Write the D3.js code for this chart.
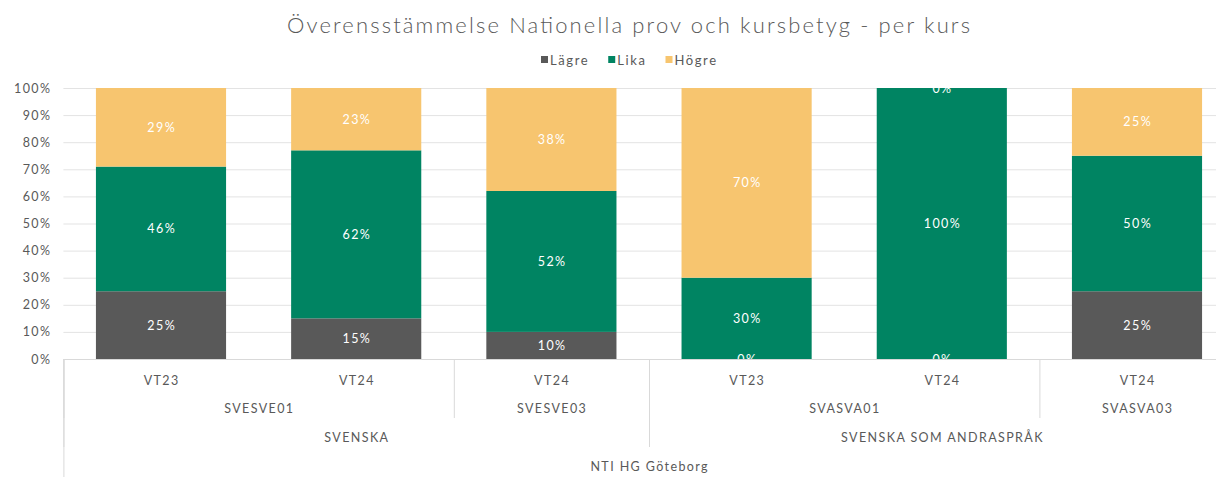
<!DOCTYPE html>
<html><head><meta charset="utf-8">
<script src="https://cdn.jsdelivr.net/npm/d3@7"></script>
<style>body{margin:0;background:#fff}svg{display:block}</style>
</head><body>
<svg id="c" width="1216" height="477"></svg>
<script>
const periods = ["VT23","VT24","VT24","VT23","VT24","VT24"];
const courses = ["SVESVE01","SVESVE01","SVESVE03","SVASVA01","SVASVA01","SVASVA03"];
const subjects = ["SVENSKA","SVENSKA","SVENSKA","SVENSKA SOM ANDRASPRÅK","SVENSKA SOM ANDRASPRÅK","SVENSKA SOM ANDRASPRÅK"];
const schools = ["NTI HG Göteborg","NTI HG Göteborg","NTI HG Göteborg","NTI HG Göteborg","NTI HG Göteborg","NTI HG Göteborg"];
const seriesNames = ["Lägre","Lika","Högre"];
const lagre = [25,15,10,0,0,25];
const lika = [46,62,52,30,100,50];
const hogre = [29,23,38,70,0,25];
const yTicks = [0,10,20,30,40,50,60,70,80,90,100];
const colors = ["#595959","#008462","#F7C56F"];

(function(){
const svg = d3.select("#c");
const font = "Lato, 'Open Sans', sans-serif";
const textCol = "#595959";
const LS = "1.4px", FS = 12.5;
const W = 1216, H = 477;
const pLeft = 63.4, pRight = 1234.6, pTop = 88, pBottom = 359;
const idx = d3.range(periods.length);
const x = d3.scaleBand().domain(idx).range([pLeft,pRight]).paddingInner(1/3).paddingOuter(1/6);
const y = d3.scaleLinear().domain([0,100]).range([pBottom, pTop]);

svg.append("text").attr("x",628.5).attr("y",33).attr("text-anchor","middle")
  .attr("font-family",font).attr("font-size",22).attr("fill",textCol).attr("font-weight",300)
  .attr("textLength",683).attr("lengthAdjust","spacing")
  .text("Överensstämmelse Nationella prov och kursbetyg - per kurs");

const leg = svg.append("g");
let lx = 541;
seriesNames.forEach((n,i)=>{
  const g = leg.append("g").attr("transform",`translate(${lx},60)`);
  g.append("rect").attr("x",0).attr("y",-4).attr("width",7).attr("height",7).attr("fill",colors[i]);
  const t = g.append("text").attr("x",9).attr("y",4.5).attr("font-family",font).attr("font-size",13)
    .attr("letter-spacing","1.6px").attr("fill",textCol).text(n);
  lx += 9 + t.node().getComputedTextLength() + 19;
});

const plot = svg.append("g");
plot.selectAll("line.grid").data(yTicks).enter().append("line")
  .attr("x1",pLeft).attr("x2",W).attr("y1",d=>y(d)+0.5).attr("y2",d=>y(d)+0.5)
  .attr("stroke","#e3e3e3").attr("stroke-width",1);

const yAxis = d3.axisLeft(y).tickValues(yTicks).tickFormat(d=>d+"%").tickSize(0).tickPadding(12);
const ya = svg.append("g").attr("transform",`translate(${pLeft},0)`).call(yAxis);
ya.select(".domain").remove();
ya.selectAll("text").attr("font-family",font).attr("font-size",FS).attr("letter-spacing",LS).attr("fill",textCol);

const rows = idx.map(i=>({i, "Lägre":lagre[i], "Lika":lika[i], "Högre":hogre[i]}));
const stack = d3.stack().keys(seriesNames)(rows);
stack.forEach((s,si)=>{
  plot.append("g").selectAll("rect").data(s).enter().append("rect")
    .attr("x",d=>x(d.data.i)).attr("width",x.bandwidth())
    .attr("y",d=>y(d[1])).attr("height",d=>y(d[0])-y(d[1]))
    .attr("fill",colors[si]);
});
stack.forEach((s,si)=>{
  plot.append("g").selectAll("text").data(s).enter().append("text")
    .attr("x",d=>x(d.data.i)+x.bandwidth()/2+0.7)
    .attr("y",d=>(y(d[0])+y(d[1]))/2+4.5)
    .attr("text-anchor","middle").attr("font-family",font).attr("font-size",FS).attr("letter-spacing",LS).attr("fill","#fff")
    .text(d=>Math.round(d[1]-d[0])+"%");
});

svg.append("line").attr("x1",pLeft).attr("x2",W).attr("y1",pBottom+0.5).attr("y2",pBottom+0.5).attr("stroke","#d9d9d9");
const levels = [periods, courses, subjects, schools];
const rowY = [385, 413, 442, 471];
const lineEnd = [pBottom, 418, 447, H];
function runs(arr){
  const r=[]; arr.forEach((v,i)=>{ if(r.length && r[r.length-1].v===v) r[r.length-1].e=i; else r.push({v,s:i,e:i}); }); return r;
}
const step = x.step();
levels.forEach((arr,li)=>{
  const rs = li===0 ? idx.map(i=>({v:arr[i],s:i,e:i})) : runs(arr);
  rs.forEach(r=>{
    const cx = (x(r.s)+x(r.e)+x.bandwidth())/2 + 0.7;
    svg.append("text").attr("x",cx).attr("y",rowY[li]).attr("text-anchor","middle")
      .attr("font-family",font).attr("font-size",FS).attr("letter-spacing",LS).attr("fill",textCol).text(r.v);
    if(li>0){
      const bx = x(r.s) - step*x.paddingInner()/2;
      svg.append("line").attr("x1",bx+0.5).attr("x2",bx+0.5).attr("y1",pBottom).attr("y2",lineEnd[li])
        .attr("stroke","#d9d9d9");
    }
  });
});
})();
</script>
</body></html>
